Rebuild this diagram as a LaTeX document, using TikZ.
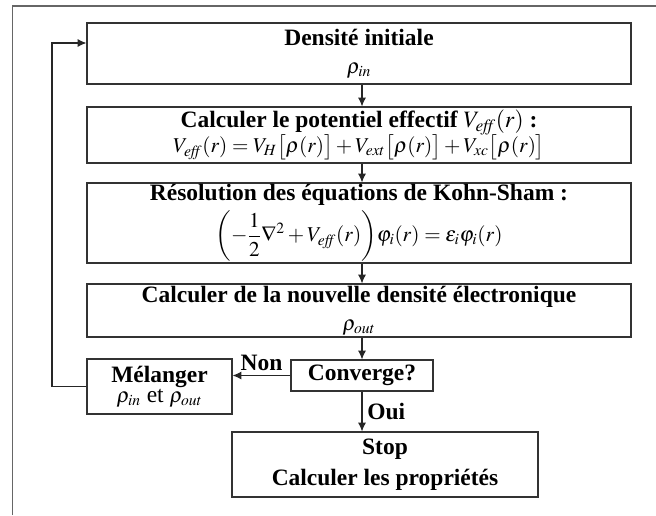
\documentclass[tikz,border=0pt]{standalone}
\usepackage{amsmath}
\usepackage{mathptmx}
\usepackage[no-math]{fontspec}
\setmainfont{Liberation Serif}
\usetikzlibrary{arrows.meta, positioning}

\newcommand{\flowfont}{\fontsize{16.7}{20}\selectfont}
\newcommand{\eqfont}{\fontsize{15}{18}\selectfont}
\tikzset{
    box/.style={draw=black!80, line width=0.8pt, align=center, inner sep=0pt, font=\flowfont\bfseries},
    arr/.style={draw=black!85, line width=0.8pt, -{Latex[length=2.2mm, width=2mm]}},
    lbl/.style={font=\flowfont\bfseries},
}

\begin{document}
\begin{tikzpicture}
    \useasboundingbox (0,0) rectangle (16.4,-12.875);
    % Outer frame (cut at the right and bottom)
    \draw[black!60, line width=0.8pt] (0.32,-12.875) -- (0.32,-0.15) -- (16.4,-0.15);
    % Main steps
    \node[box, minimum width=13.6cm, minimum height=1.525cm] (dens) at (8.975,-1.3375)
        {Densité initiale\\ {\eqfont $\rho_{in}$}};
    \node[box, minimum width=13.6cm, minimum height=1.4cm] (pot) at (8.975,-3.375)
        {Calculer le potentiel effectif $V_{\mathit{eff}}(r)$ :\\[-2pt]
         {\eqfont $V_{\mathit{eff}}(r) = V_H\big[\rho(r)\big] + V_{ext}\big[\rho(r)\big] + V_{xc}\big[\rho(r)\big]$}};
    \node[box, minimum width=13.6cm, minimum height=2cm] (ks) at (8.975,-5.575)
        {Résolution des équations de Kohn-Sham :\\[3pt]
         {\eqfont $\displaystyle\biggl(-\frac{1}{2}\nabla^2 + V_{\mathit{eff}}(r)\biggr)\varphi_i(r) = \varepsilon_i\varphi_i(r)$}};
    \node[box, minimum width=13.6cm, minimum height=1.325cm] (nouv) at (8.975,-7.7625)
        {Calculer de la nouvelle densité électronique\\ {\eqfont $\rho_{out}$}};
    % Test and branches
    \node[box, minimum width=3.55cm, minimum height=0.775cm] (conv) at (9.05,-9.3875) {Converge?};
    \node[box, minimum width=3.625cm, minimum height=1.375cm] (mel) at (3.9875,-9.6625)
        {Mélanger\\[-6pt] {\eqfont $\rho_{in}$} {\mdseries et} {\eqfont $\rho_{out}$}};
    \node[box, minimum width=7.65cm, minimum height=1.625cm] (stop) at (9.625,-11.6125)
        {Stop\\[2pt] Calculer les propriétés};
    % Arrows
    \draw[arr] (dens.south -| conv) -- (pot.north -| conv);
    \draw[arr] (pot.south -| conv) -- (ks.north -| conv);
    \draw[arr] (ks.south -| conv) -- (nouv.north -| conv);
    \draw[arr] (nouv.south -| conv) -- (conv.north);
    \draw[arr] (conv.west) -- (conv.west -| mel.east) node[lbl, midway, above] {Non};
    \draw[arr] (conv.south) -- (conv.south |- stop.north) node[lbl, midway, right] {Oui};
    % Loop back
    \coordinate (back) at (1.3,-1.075);
    \draw[arr] (mel.west) -| (back) -- (back -| dens.west);
\end{tikzpicture}
\end{document}
